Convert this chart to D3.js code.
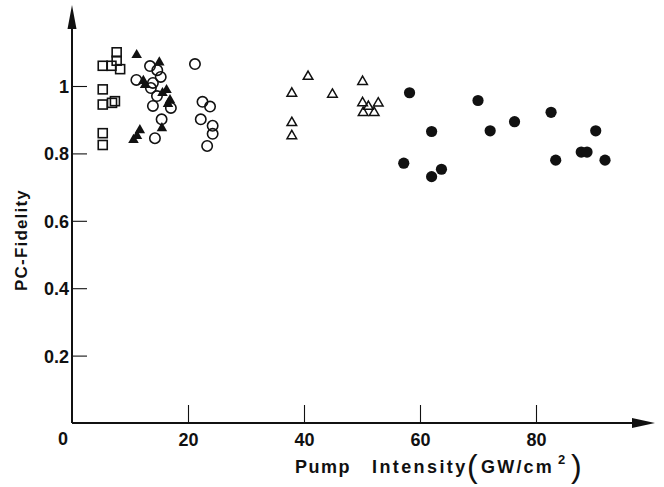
<!DOCTYPE html>
<html><head><meta charset="utf-8">
<script src="https://cdn.jsdelivr.net/npm/d3@7"></script>
<style>body{margin:0;background:#fff}svg{display:block}text{font-family:"Liberation Sans",Arial,sans-serif;font-weight:bold;fill:#111}</style>
</head><body><svg id="c" width="664" height="487"></svg>
<script>
const xTicks = [20, 40, 60, 80];
const yTicks = [0.2, 0.4, 0.6, 0.8, 1];
const squares = [[5.3,1.06],[6.8,1.06],[7.7,1.10],[7.7,1.075],[8.3,1.05],[5.3,0.99],[5.3,0.945],[6.9,0.95],[7.4,0.955],[5.3,0.86],[5.3,0.825]];
const filledTriangles = [[11.15,1.092],[15.05,1.07],[12.3,1.015],[12.6,1.003],[16.3,0.988],[15.6,0.979],[16.9,0.958],[16.55,0.947],[15.5,0.875],[11.7,0.869],[11.2,0.852],[10.6,0.84]];
const openCircles = [[13.45,1.059],[14.7,1.047],[15.3,1.027],[11.1,1.018],[13.95,1.009],[13.6,0.994],[14.65,0.970],[13.95,0.941],[17.05,0.935],[15.45,0.901],[14.3,0.845],[21.2,1.065],[22.5,0.953],[23.8,0.939],[22.2,0.901],[24.25,0.882],[24.25,0.858],[23.3,0.822]];
const openTriangles = [[40.7,1.028],[37.9,0.978],[44.9,0.975],[50.1,1.013],[50.1,0.950],[51.1,0.939],[52.8,0.949],[50.2,0.921],[52.1,0.921],[37.9,0.891],[37.9,0.852]];
const filledCircles = [[58.2,0.98],[57.2,0.771],[62.0,0.865],[62.0,0.731],[63.7,0.753],[70.0,0.957],[72.1,0.867],[76.3,0.894],[82.6,0.922],[83.4,0.78],[87.8,0.804],[88.8,0.804],[90.3,0.867],[91.9,0.78]];

const svg = d3.select("#c");
const x = d3.scaleLinear().domain([0, 20]).range([72, 188]);
const y = d3.scaleLinear().domain([0, 1]).range([423, 86]);
const ink = "#111";

// axes with ticks pointing inward
const gx = svg.append("g").attr("transform", `translate(0,${y(0)})`)
  .call(d3.axisBottom(x).tickValues(xTicks).tickSizeInner(-18).tickSizeOuter(0).tickPadding(10));
const gy = svg.append("g").attr("transform", `translate(${x(0)},0)`)
  .call(d3.axisLeft(y).tickValues(yTicks).tickSizeInner(-15).tickSizeOuter(0).tickPadding(3).tickFormat(d => d === 1 ? "1" : d3.format(".1f")(d)));
[gx, gy].forEach(g => {
  g.select(".domain").remove();
  g.selectAll(".tick line").attr("stroke", ink).attr("stroke-width", 1.1);
  g.selectAll(".tick text").attr("font-size", 18).style("font-family", '"Liberation Sans",Arial,sans-serif').style("font-weight", "bold").attr("fill", ink);
});
gy.selectAll(".tick text").attr("dy", "0.36em");
svg.append("text").attr("x", 63).attr("y", 445).attr("text-anchor", "middle").attr("font-size", 18).text("0");

// axis lines with arrowheads
svg.append("line").attr("x1", x(0)).attr("y1", y(0)).attr("x2", 640).attr("y2", y(0)).attr("stroke", ink).attr("stroke-width", 2);
svg.append("path").attr("d", `M632,${y(0)-5} L655,${y(0)} L632,${y(0)+5} Z`).attr("fill", ink);
svg.append("line").attr("x1", x(0)).attr("y1", y(0)).attr("x2", x(0)).attr("y2", 22).attr("stroke", ink).attr("stroke-width", 2);
svg.append("path").attr("d", `M${x(0)-4.5},29 L${x(0)},5 L${x(0)+4.5},29 Z`).attr("fill", ink);

// titles
svg.append("text").attr("transform", "translate(27,240) rotate(-90)").attr("text-anchor", "middle")
  .attr("font-size", 17).attr("letter-spacing", 1.2).text("PC-Fidelity");
const ty = 473;
svg.append("text").attr("x", 295).attr("y", ty).attr("font-size", 18).attr("letter-spacing", 1.5).text("Pump");
svg.append("text").attr("x", 372).attr("y", ty).attr("font-size", 18).attr("letter-spacing", 2.4).text("Intensity");
svg.append("text").attr("x", 467).attr("y", ty + 4).attr("font-size", 32).style("font-weight", "normal").text("(");
svg.append("text").attr("x", 481).attr("y", ty).attr("font-size", 18).attr("letter-spacing", 2.2).text("GW/cm");
svg.append("text").attr("x", 558).attr("y", ty - 9).attr("font-size", 13).text("2");
svg.append("text").attr("x", 571).attr("y", ty + 4).attr("font-size", 32).style("font-weight", "normal").text(")");

// markers
const g = svg.append("g");
g.selectAll(".sq").data(squares).join("rect")
  .attr("x", d => x(d[0]) - 4.5).attr("y", d => y(d[1]) - 4.5).attr("width", 9).attr("height", 9)
  .attr("fill", "none").attr("stroke", ink).attr("stroke-width", 1.6);
g.selectAll(".oc").data(openCircles).join("circle")
  .attr("cx", d => x(d[0])).attr("cy", d => y(d[1])).attr("r", 5.2)
  .attr("fill", "none").attr("stroke", ink).attr("stroke-width", 1.6);
const tri = d3.symbol().type(d3.symbolTriangle);
g.selectAll(".ft").data(filledTriangles).join("path")
  .attr("d", tri.size(48)()).attr("transform", d => `translate(${x(d[0])},${y(d[1])})`).attr("fill", ink);
g.selectAll(".ot").data(openTriangles).join("path")
  .attr("d", tri.size(40)()).attr("transform", d => `translate(${x(d[0])},${y(d[1])})`)
  .attr("fill", "none").attr("stroke", ink).attr("stroke-width", 1.5);
g.selectAll(".fc").data(filledCircles).join("circle")
  .attr("cx", d => x(d[0])).attr("cy", d => y(d[1])).attr("r", 5.6).attr("fill", ink);
</script></body></html>
